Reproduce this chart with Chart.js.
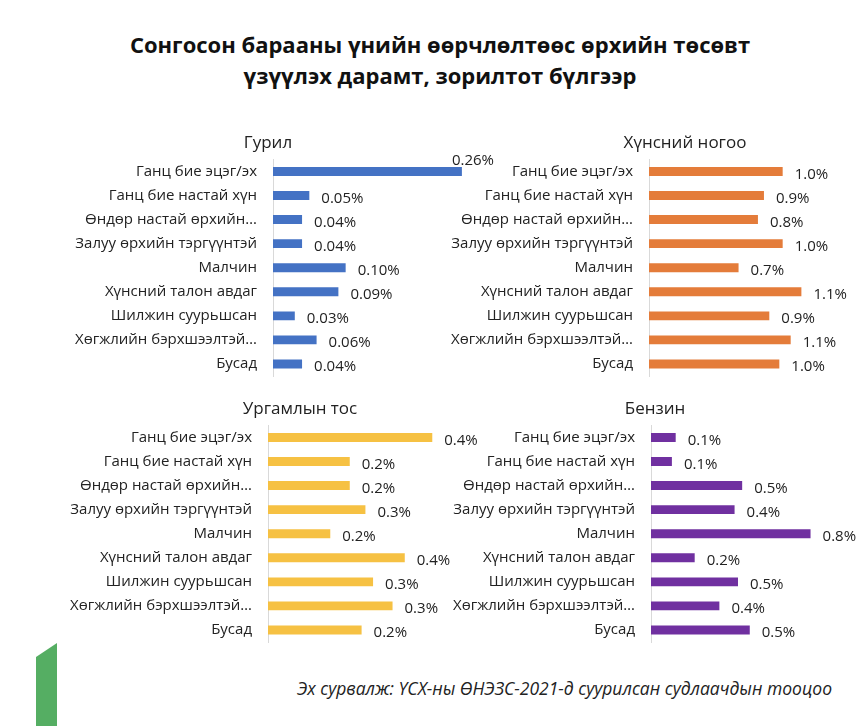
<!DOCTYPE html>
<html>
<head>
<meta charset="utf-8">
<script src="https://cdn.jsdelivr.net/npm/chart.js@4.4.0/dist/chart.umd.min.js"></script>
<style>
  html, body { margin: 0; padding: 0; background: #fff; overflow: hidden; }
  body { width: 864px; height: 726px; position: relative; font-family: "Open Sans", sans-serif; }
  #title { position: absolute; left: 0; width: 880px; top: 29px; text-align: center;
           font-weight: bold; font-size: 22px; line-height: 31px; color: #111; }
  #source { position: absolute; right: 32px; top: 676px; font-style: italic; font-size: 17.5px; color: #222; white-space: nowrap; }
  #greenbar { position: absolute; left: 36px; top: 643px; width: 21px; height: 83px; background: #55ae63;
              clip-path: polygon(0 17%, 100% 0, 100% 100%, 0 100%); }
  .box { position: absolute; }
</style>
</head>
<body>
<div id="title">Сонгосон барааны үнийн өөрчлөлтөөс өрхийн төсөвт<br>үзүүлэх дарамт, зорилтот бүлгээр</div>
<div class="box" style="left:0px;top:120px"><canvas id="c1" width="536" height="281"></canvas></div>
<div class="box" style="left:432px;top:120px"><canvas id="c2" width="506" height="281"></canvas></div>
<div class="box" style="left:0px;top:386px"><canvas id="c3" width="600" height="281"></canvas></div>
<div class="box" style="left:440px;top:386px"><canvas id="c4" width="430" height="281"></canvas></div>
<div id="greenbar"></div>
<div id="source">Эх сурвалж: ҮСХ-ны ӨНЭЗС-2021-д суурилсан судлаачдын тооцоо</div>
<script>
const categories = ['Ганц бие эцэг/эх', 'Ганц бие настай хүн', 'Өндөр настай өрхийн…',
  'Залуу өрхийн тэргүүнтэй', 'Малчин', 'Хүнсний талон авдаг', 'Шилжин суурьшсан',
  'Хөгжлийн бэрхшээлтэй…', 'Бусад'];

// values in %
const gurilValues = [0.26, 0.05, 0.04, 0.04, 0.10, 0.09, 0.03, 0.06, 0.04];
const nogooValues = [1.0, 0.86, 0.815, 1.0, 0.67, 1.14, 0.90, 1.06, 0.975];
const tosValues = [0.43, 0.214, 0.214, 0.255, 0.163, 0.358, 0.275, 0.326, 0.245];
const benzinValues = [0.13, 0.11, 0.48, 0.44, 0.84, 0.23, 0.458, 0.36, 0.52];

const FONT = '"Open Sans", sans-serif';

const barLabels = {
  id: 'barLabels',
  afterDatasetsDraw(chart) {
    const ctx = chart.ctx;
    const ds = chart.data.datasets[0];
    const opts = chart.options.plugins.barLabels;
    ctx.save();
    ctx.font = '15px ' + FONT;
    ctx.fillStyle = '#222';
    ctx.textBaseline = 'middle';
    chart.getDatasetMeta(0).data.forEach((bar, i) => {
      const txt = ds.data[i].toFixed(opts.decimals) + '%';
      const w = ctx.measureText(txt).width;
      let x = bar.x + 12;
      let y = bar.y + 3;
      // label would run past the plot edge: pull it in above the bar
      if (x + w > opts.right) {
        x = opts.right - w;
        y = bar.y - 11;
      }
      ctx.fillText(txt, x, y);
    });
    ctx.restore();
  }
};

function makeChart(id, title, values, color, decimals, xMax, yWidth, labelRight) {
  return new Chart(document.getElementById(id), {
    type: 'bar',
    data: {
      labels: categories,
      datasets: [{
        data: values,
        backgroundColor: color,
        barPercentage: 0.37,
        categoryPercentage: 1
      }]
    },
    options: {
      indexAxis: 'y',
      responsive: false,
      animation: false,
      layout: { padding: 0 },
      plugins: {
        legend: { display: false },
        tooltip: { enabled: false },
        title: {
          display: true,
          text: title,
          color: '#222',
          font: { family: FONT, size: 17, weight: 'normal' },
          padding: { top: 13, bottom: 6 }
        },
        barLabels: { decimals: decimals, right: labelRight }
      },
      scales: {
        x: { display: false, min: 0, max: xMax },
        y: {
          grid: { display: false, drawTicks: false },
          border: { display: true, color: '#d9d9d9', width: 1 },
          ticks: { color: '#222', padding: 16, font: { family: FONT, size: 15 } },
          afterFit(scale) { scale.width = yWidth; }
        }
      }
    },
    plugins: [barLabels]
  });
}

makeChart('c1', 'Гурил', gurilValues, '#4472c4', 2, 0.362, 273, 494);
makeChart('c2', 'Хүнсний ногоо', nogooValues, '#e47c3a', 1, 2.162, 217, 9999);
makeChart('c3', 'Ургамлын тос', tosValues, '#f6c143', 1, 0.869, 268, 9999);
makeChart('c4', 'Бензин', benzinValues, '#7030a0', 1, 1.153, 211, 9999);
</script>
</body>
</html>
